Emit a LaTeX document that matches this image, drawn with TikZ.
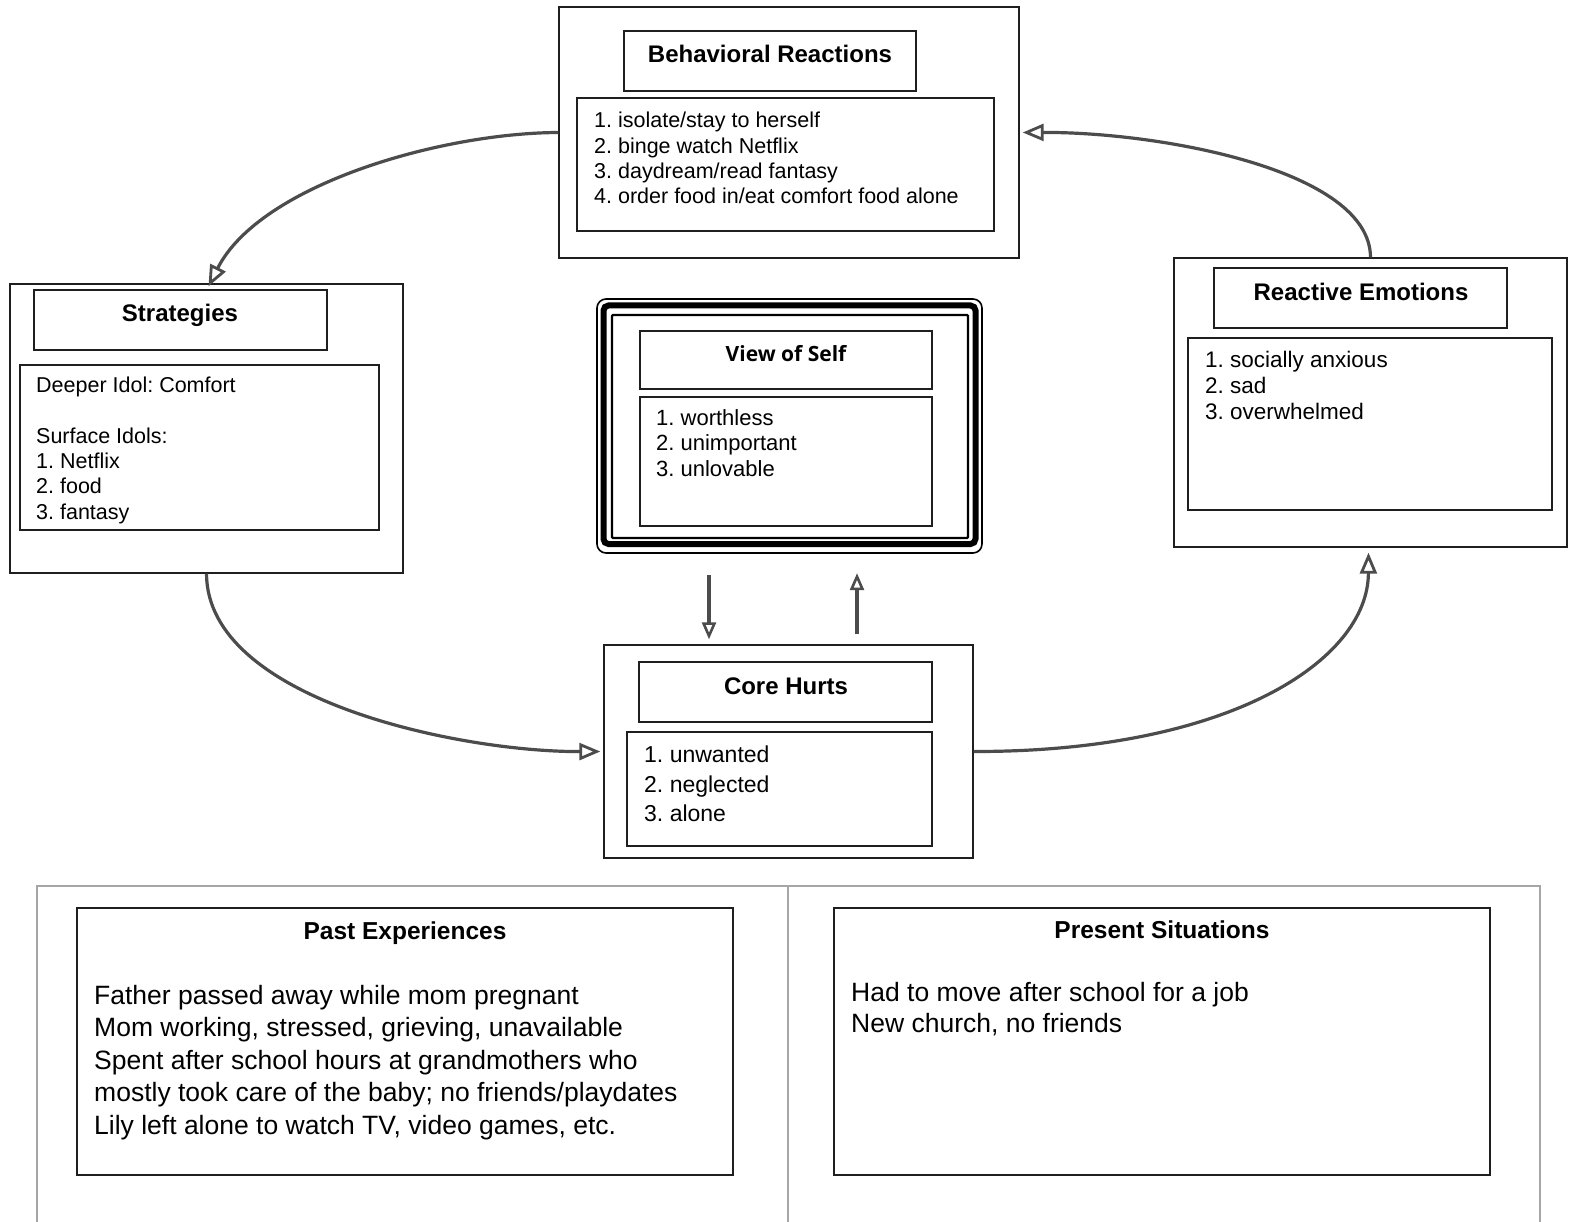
\documentclass[tikz,border=0pt]{standalone}
\usepackage{fontspec}
\setmainfont{Liberation Sans}
\newfontfamily\vosfont{Open Sans}
\usetikzlibrary{arrows.meta}
\frenchspacing
\begin{document}
\begin{tikzpicture}[x=1pt,y=-1pt,
  box/.style={draw=black!88, line width=1.4pt, inner sep=0pt, fill=white},
  ttl/.style={anchor=base, inner sep=0pt, font=\fontsize{24}{28}\selectfont\bfseries},
  lst/.style={anchor=north west, inner sep=0pt, align=left},
  arr/.style={draw=black!70, line width=3.2pt, -{Triangle[open, length=21pt, width=17pt, line width=2.8pt]}},
  varr/.style={draw=black!70, line width=3.2pt, -{Triangle[open, length=17pt, width=14pt, line width=2.6pt]}},
  panel/.style={draw=black!35, line width=1.5pt}]
\useasboundingbox (0,0) rectangle (1571,1222);
\fill[white] (0,0) rectangle (1571,1222);

% Behavioral Reactions
\node[box, minimum width=460pt, minimum height=251pt] (br) at (789,132.5) {};
\node[box, minimum width=292pt, minimum height=60pt] (brt) at (770,61) {};
\node[ttl] (brtt) at (770,62.6) {Behavioral Reactions};
\node[box, minimum width=417pt, minimum height=133pt] (brl) at (785.5,164.5) {};
\node[lst, font=\fontsize{21.5}{25.3}\selectfont] (brlt) at (594,112) {1. isolate/stay to herself\\2. binge watch Netflix\\3. daydream/read fantasy\\4. order food in/eat comfort food alone};

% Strategies
\node[box, minimum width=393pt, minimum height=289pt] (st) at (206.5,428.5) {};
\node[box, minimum width=293pt, minimum height=60pt] (stt) at (180.5,320) {};
\node[ttl] (sttt) at (180,321.6) {Strategies};
\node[box, minimum width=359pt, minimum height=165pt] (stl) at (199.5,447.5) {};
\node[lst, font=\fontsize{21.5}{25.3}\selectfont] (stlt) at (36,377) {Deeper Idol: Comfort\\[25.3pt]Surface Idols:\\1. Netflix\\2. food\\3. fantasy};

% Reactive Emotions
\node[box, minimum width=393pt, minimum height=289pt] (re) at (1370.5,402.5) {};
\node[box, minimum width=293pt, minimum height=60pt] (ret) at (1360.5,298) {};
\node[ttl] (rett) at (1361,300.6) {Reactive Emotions};
\node[box, minimum width=364pt, minimum height=172pt] (rel) at (1370,424) {};
\node[lst, font=\fontsize{22.5}{26}\selectfont] (relt) at (1205,351) {1. socially anxious\\2. sad\\3. overwhelmed};

% View of Self
\draw[black, line width=1.6pt, rounded corners=9pt] (597,299) rectangle (982,553);
\draw[black, line width=6pt, rounded corners=5pt] (603.5,305.5) rectangle (975.5,544);
\draw[black, line width=2.2pt, rounded corners=1pt] (612,315) rectangle (968,538);
\node[minimum width=386pt, minimum height=258pt, inner sep=0pt] (vos) at (789,427) {};
\node[box, minimum width=292pt, minimum height=58pt] (vost) at (786,360) {};
\node[ttl, font=\vosfont\fontsize{21}{25}\selectfont\bfseries] (vostt) at (786,362) {View of Self};
\node[box, minimum width=292pt, minimum height=129pt] (vosl) at (786,461.5) {};
\node[lst, font=\fontsize{22}{25.5}\selectfont] (voslt) at (656,409) {1. worthless\\2. unimportant\\3. unlovable};

% Core Hurts
\node[box, minimum width=369pt, minimum height=213pt] (ch) at (788.5,751.5) {};
\node[box, minimum width=293pt, minimum height=60pt] (cht) at (785.5,692) {};
\node[ttl] (chtt) at (786,694.6) {Core Hurts};
\node[box, minimum width=305pt, minimum height=114pt] (chl) at (779.5,789) {};
\node[lst, font=\fontsize{23}{29.5}\selectfont] (chlt) at (644,746) {1. unwanted\\2. neglected\\3. alone};

% cycle connectors
\draw[arr] (br.west) .. controls (440,133) and (260,185) .. ([xshift=2pt,yshift=-3pt]st.north);
\draw[arr] (st.south) .. controls (207,700) and (460,752) .. ([xshift=-3pt]ch.west);
\draw[arr] (ch.east) .. controls (1230,752) and (1368,660) .. ([xshift=-2pt,yshift=-5pt]re.south);
\draw[arr] (re.north) .. controls (1370,170) and (1160,132) .. ([xshift=3pt]br.east);

% vertical connectors
\draw[varr] ([xshift=-80pt,yshift=-19pt]vos.south) -- ([xshift=-79.5pt,yshift=5pt]ch.north);
\draw[varr] ([xshift=68.5pt,yshift=10pt]ch.north) -- ([xshift=68pt,yshift=-17pt]vos.south);

% bottom panel
\draw[panel] (37,1222) -- (37,886) -- (1540,886) -- (1540,1222);
\draw[panel] (788,886) -- (788,1222);

\node[box, minimum width=656pt, minimum height=267pt] (pe) at (405,1041.5) {};
\node[ttl, font=\fontsize{24.5}{29}\selectfont\bfseries] (pet) at (405,939.8) {Past Experiences};
\node[lst, font=\fontsize{26.5}{32.5}\selectfont] (pelt) at (94,985) {Father passed away while mom pregnant\\Mom working, stressed, grieving, unavailable\\Spent after school hours at grandmothers who\\mostly took care of the baby; no friends/playdates\\Lily left alone to watch TV, video games, etc.};

\node[box, minimum width=656pt, minimum height=267pt] (ps) at (1162,1041.5) {};
\node[ttl, font=\fontsize{24.5}{29}\selectfont\bfseries] (pst) at (1162,938.8) {Present Situations};
\node[lst, font=\fontsize{26.5}{31}\selectfont] (pslt) at (851,982) {Had to move after school for a job\\New church, no friends};
\end{tikzpicture}
\end{document}
